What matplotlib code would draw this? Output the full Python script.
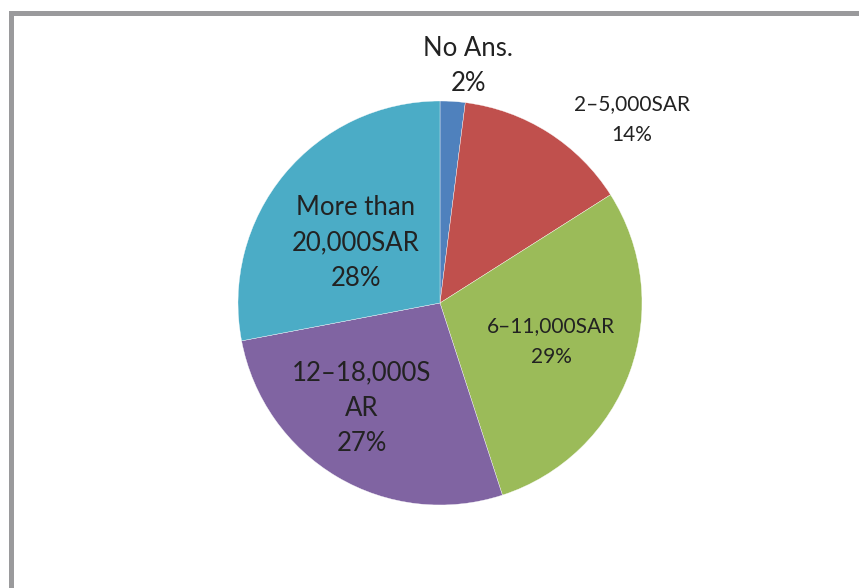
import matplotlib
matplotlib.use("Agg")
import matplotlib.pyplot as plt
from matplotlib.lines import Line2D

# Monthly income distribution
categories = ["No Ans.", "2\u20135,000SAR", "6\u201311,000SAR", "12\u201318,000S\nAR", "More than\n20,000SAR"]
shares = [2, 14, 29, 27, 28]
colors = ["#4F81BD", "#C0504D", "#9BBB59", "#8064A2", "#4BACC6"]

# label anchor (pixels from top-left), font size and line spacing per slice
label_pos = [(468, 66), (632, 120), (551, 342), (362, 408), (356, 243)]
label_size = [18.5, 15, 15, 18.5, 18.5]
label_gap = [1.5, 1.68, 1.68, 1.52, 1.52]

W, H, DPI = 859, 588, 100
fig = plt.figure(figsize=(W / DPI, H / DPI), dpi=DPI)
fig.patch.set_facecolor("white")

cx, cy, r = 440, 303, 202
ax = fig.add_axes([(cx - r) / W, (H - cy - r) / H, 2 * r / W, 2 * r / H])
ax.pie(shares, colors=colors, startangle=90, counterclock=False, radius=1,
       wedgeprops=dict(edgecolor="white", linewidth=0.25))
ax.set_xlim(-1, 1)
ax.set_ylim(-1, 1)
ax.set_axis_off()

for name, val, (px, py), fs, gap in zip(categories, shares, label_pos, label_size, label_gap):
    fig.text(px / W, 1 - py / H, f"{name}\n{val}%", ha="center", va="center",
             fontsize=fs, family="Lato", color="#222222", linespacing=gap)

# chart frame: only the left and top edges fall inside the canvas
frame = dict(color="#9A9A9C", linewidth=3.6, solid_capstyle="projecting",
             transform=fig.transFigure)
fig.lines.append(Line2D([10.8 / W, 10.8 / W], [1 - 12.5 / H, 0], **frame))
fig.lines.append(Line2D([10.8 / W, 1], [1 - 12.5 / H, 1 - 12.5 / H], **frame))

fig.savefig("out.png", dpi=DPI)
